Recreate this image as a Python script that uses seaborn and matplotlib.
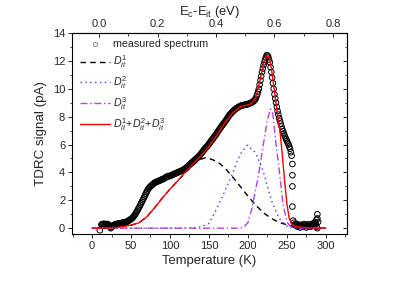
import matplotlib
matplotlib.use('Agg')
import matplotlib.pyplot as plt
import seaborn as sns
import numpy as np
import pandas as pd
from matplotlib.lines import Line2D

# measured spectrum (main band, 1 K grid)
temp_meas = list(range(12, 257))
tdrc_meas = [0.25, 0.28, 0.3, 0.32, 0.3, 0.26, 0.28, 0.3, 0.3, 0.25,
             0.2, 0.12, 0.05, 0.1, 0.15, 0.2, 0.22, 0.25, 0.28, 0.3,
             0.3, 0.32, 0.33, 0.34, 0.35, 0.36, 0.38, 0.39, 0.4, 0.41,
             0.42, 0.44, 0.45, 0.47, 0.5, 0.54, 0.58, 0.62, 0.66, 0.7,
             0.75, 0.81, 0.88, 0.96, 1.05, 1.15, 1.25, 1.35, 1.45, 1.56,
             1.68, 1.79, 1.9, 2.01, 2.12, 2.23, 2.35, 2.48, 2.6, 2.7,
             2.8, 2.88, 2.95, 3.0, 3.05, 3.1, 3.15, 3.2, 3.25, 3.28,
             3.3, 3.33, 3.35, 3.38, 3.4, 3.43, 3.45, 3.48, 3.5, 3.52,
             3.55, 3.58, 3.62, 3.66, 3.7, 3.71, 3.72, 3.74, 3.75, 3.78,
             3.8, 3.83, 3.85, 3.88, 3.9, 3.93, 3.95, 3.98, 4.0, 4.03,
             4.05, 4.08, 4.1, 4.12, 4.15, 4.18, 4.22, 4.26, 4.3, 4.35,
             4.4, 4.45, 4.5, 4.55, 4.6, 4.65, 4.7, 4.75, 4.8, 4.85,
             4.9, 4.95, 5.0, 5.05, 5.1, 5.16, 5.22, 5.28, 5.35, 5.42,
             5.5, 5.57, 5.65, 5.72, 5.78, 5.84, 5.9, 5.97, 6.05, 6.12,
             6.2, 6.28, 6.35, 6.42, 6.5, 6.58, 6.65, 6.72, 6.8, 6.89,
             6.98, 7.06, 7.15, 7.22, 7.3, 7.38, 7.45, 7.52, 7.6, 7.68,
             7.75, 7.84, 7.92, 8.01, 8.1, 8.16, 8.22, 8.28, 8.35, 8.4,
             8.45, 8.5, 8.55, 8.59, 8.62, 8.66, 8.7, 8.72, 8.75, 8.78,
             8.8, 8.81, 8.82, 8.84, 8.85, 8.87, 8.88, 8.89, 8.9, 8.92,
             8.95, 8.97, 9.0, 9.02, 9.05, 9.1, 9.15, 9.22, 9.3, 9.45,
             9.6, 9.8, 10.0, 10.3, 10.6, 10.9, 11.2, 11.45, 11.7, 11.9,
             12.1, 12.25, 12.4, 12.38, 12.3, 12.1, 11.9, 11.55, 11.2, 10.8,
             10.4, 10.0, 9.6, 9.3, 9.0, 8.7, 8.4, 8.15, 7.9, 7.7,
             7.5, 7.3, 7.1, 6.95, 6.8, 6.65, 6.5, 6.38, 6.25, 6.12,
             6.0, 5.85, 5.7, 5.45, 5.2]
# stray points and the low-signal tail
temp_tail = [10, 24, 257, 257, 257, 257, 258, 259, 260, 261, 262, 263, 264, 265,
             266, 267, 268, 269, 270, 271, 272, 273, 274, 275, 276, 277, 278,
             279, 280, 281, 282, 283, 284, 285, 286, 287, 288, 288, 289, 289,
             289, 290]
tdrc_tail = [-0.15, 0.0, 4.6, 3.8, 3.0, 1.55, 0.55, 0.4, 0.25, 0.3, 0.15, 0.3, 0.1, 0.22,
             0.2, 0.05, 0.25, 0.18, 0.15, 0.1, 0.3, 0.2, 0.2, 0.05, 0.15, 0.28, 0.25,
             0.1, 0.2, 0.15, 0.3, 0.15, 0.35, 0.2, 0.45, 0.3, 0.6, 0.1, 1.0, 0.7,
             0.0, 0.45]

# fitted components
temp_d1 = [0, 10, 20, 30, 40, 50, 60, 70, 80, 90, 100, 110, 120, 130, 140, 145, 150,
           160, 170, 180, 190, 200, 210, 220, 230, 240, 250, 260, 270, 280, 290, 300]
d1 = [0, 0, 0.01, 0.04, 0.12, 0.22, 0.38, 0.8, 1.45, 2.15, 2.8, 3.4, 4.0, 4.55, 4.95,
      5.05, 5.0, 4.8, 4.35, 3.7, 3.0, 2.3, 1.65, 1.1, 0.7, 0.42, 0.24, 0.13, 0.07,
      0.04, 0.02, 0.01]
temp_d2 = [0, 100, 130, 140, 150, 160, 170, 180, 190, 199, 210, 220, 230, 240, 250, 260, 300]
d2 = [0, 0, 0.02, 0.1, 0.35, 1.4, 2.6, 3.9, 5.3, 5.95, 5.4, 4.0, 2.0, 0.7, 0.15, 0.02, 0]
temp_d3 = [0, 190, 195, 200, 205, 210, 215, 220, 225, 229, 232, 236, 240, 245, 250,
           255, 260, 300]
d3 = [0, 0, 0.1, 0.4, 1.4, 2.8, 4.3, 6.1, 7.8, 8.55, 8.2, 6.0, 4.2, 1.7, 0.45, 0.08, 0.02, 0]
temp_sum = [0, 10, 20, 30, 40, 50, 60, 70, 80, 90, 100, 110, 120, 130, 140, 150, 160,
            170, 180, 190, 200, 205, 210, 215, 220, 224, 227, 230, 235, 238, 241, 244,
            247, 250, 253, 256, 260, 270, 280, 290, 300]
d_sum = [0, 0, 0.01, 0.04, 0.12, 0.22, 0.38, 0.8, 1.45, 2.15, 2.8, 3.4, 4.05, 4.65,
         5.2, 5.85, 6.65, 7.5, 8.25, 8.7, 8.85, 8.95, 9.35, 10.5, 11.8, 12.4, 12.3,
         11.5, 9.4, 8.1, 7.0, 5.3, 3.4, 1.7, 0.7, 0.3, 0.14, 0.06, 0.03, 0.01, 0.01]

lbl1 = r'$D_{it}^{1}$'
lbl2 = r'$D_{it}^{2}$'
lbl3 = r'$D_{it}^{3}$'
lbl_sum = r'$D_{it}^{1}$+$D_{it}^{2}$+$D_{it}^{3}$'

sns.set_style('ticks')
plt.rcParams['font.family'] = ['Liberation Sans', 'DejaVu Sans']
plt.rcParams['mathtext.fontset'] = 'custom'
plt.rcParams['mathtext.it'] = 'Liberation Sans:italic'
plt.rcParams['mathtext.rm'] = 'Liberation Sans'

fig = plt.figure(figsize=(4.03, 2.82), dpi=100)
ax = fig.add_axes([0.179, 0.170, 0.682, 0.713])

meas = pd.DataFrame({'T': temp_meas + temp_tail, 'I': tdrc_meas + tdrc_tail})
sns.scatterplot(data=meas, x='T', y='I', ax=ax, marker='o', s=16,
                facecolors='none', edgecolor='black', linewidth=0.7, zorder=2)

sns.lineplot(x=temp_d1, y=d1, ax=ax, color='black', linewidth=1.0, zorder=3)
ax.lines[-1].set_dashes((4, 3))
sns.lineplot(x=temp_d2, y=d2, ax=ax, color='#3a3aff', linewidth=1.0, zorder=3)
ax.lines[-1].set_linestyle((0, (1, 2.5)))
sns.lineplot(x=temp_d3, y=d3, ax=ax, color='#b040f0', linewidth=1.0, zorder=3)
ax.lines[-1].set_linestyle((0, (5, 2, 1, 2)))
sns.lineplot(x=temp_sum, y=d_sum, ax=ax, color='#ff0000', linewidth=1.0, zorder=4)

ax.set_xlim(-25.5, 327)
ax.set_ylim(-0.42, 14)
ax.set_xticks([0, 50, 100, 150, 200, 250, 300])
ax.set_xticks(np.arange(-25, 326, 25), minor=True)
ax.set_yticks([0, 2, 4, 6, 8, 10, 12, 14])
ax.set_yticks(np.arange(0, 15, 1), minor=True)
ax.tick_params(axis='both', which='major', labelsize=8, length=3, width=0.7,
               direction='out', pad=2)
ax.tick_params(axis='both', which='minor', length=1.8, width=0.6, direction='out')
for s in ax.spines.values():
    s.set_linewidth(0.8)
    s.set_color('black')
ax.set_xlabel('Temperature (K)', fontsize=9.4, labelpad=3)
ax.set_ylabel('TDRC signal (pA)', fontsize=9.6, labelpad=4)

# right axis: ticks only, pointing in
right = ax.secondary_yaxis('right')
right.set_yticks([0, 2, 4, 6, 8, 10, 12, 14])
right.set_yticks(np.arange(0, 15, 1), minor=True)
right.tick_params(axis='y', which='major', direction='in', length=3, width=0.7, labelright=False)
right.tick_params(axis='y', which='minor', direction='in', length=1.8, width=0.6)
right.set_yticklabels([])

# top axis: trap energy
sec = ax.secondary_xaxis('top', functions=(lambda t: (t - 9.0) / 375.0,
                                           lambda e: e * 375.0 + 9.0))
sec.set_xticks([0.0, 0.2, 0.4, 0.6, 0.8])
sec.set_xticks(np.arange(-0.1, 0.85, 0.1), minor=True)
sec.xaxis.set_major_formatter(matplotlib.ticker.FormatStrFormatter('%.1f'))
sec.tick_params(axis='x', which='major', labelsize=8, length=3, width=0.7,
                direction='in', pad=3)
sec.tick_params(axis='x', which='minor', length=1.8, width=0.6, direction='in')
sec.set_xlabel(r'E$_\mathrm{c}$-E$_\mathrm{it}$ (eV)', fontsize=9.4, labelpad=3)

handles = [
    Line2D([], [], marker='o', markersize=3, markerfacecolor='none',
           markeredgecolor='#777777', markeredgewidth=0.6, linestyle='none'),
    Line2D([], [], color='black', linewidth=1.0, dashes=(4, 3)),
    Line2D([], [], color='#3a3aff', linewidth=1.0, linestyle=(0, (1, 2.5))),
    Line2D([], [], color='#b040f0', linewidth=1.0, linestyle=(0, (5, 2, 1, 2))),
    Line2D([], [], color='#ff0000', linewidth=1.0),
]
ax.legend(handles, ['measured spectrum', lbl1, lbl2, lbl3, lbl_sum],
          loc='upper left', bbox_to_anchor=(0.0, 1.005), frameon=False,
          fontsize=7.7, handlelength=2.8, handletextpad=0.3, labelspacing=0.38,
          borderaxespad=0.3)

fig.savefig('out.png', dpi=100)
